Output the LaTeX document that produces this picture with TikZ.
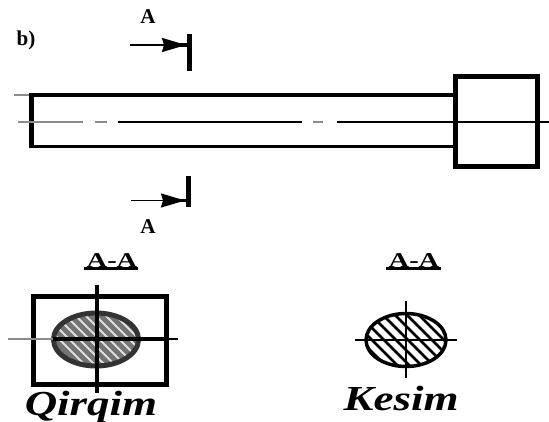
\documentclass[tikz,border=0pt]{standalone}
\usepackage{fontspec}
\setmainfont{Liberation Serif}
\usetikzlibrary{arrows.meta,positioning,calc}

\begin{document}
\begin{tikzpicture} [ % styles
            >={Stealth[length=0.24cm,width=0.14cm,inset=0.02cm]},
            contour/.style = {line width=0.033cm, black},
            contour-bold/.style = {line width=0.05cm, black},
            axis/.style = {line width=0.014cm, black},
            axis-faint/.style = {line width=0.018cm, black!45},
            sign/.style = {line width=0.018cm, black, ->},
            plain/.style = {draw=none, inner sep=0pt, text=black},
            letter/.style = {plain, font=\fontsize{6}{6}\selectfont\bfseries},
            title/.style = {plain, font=\fontsize{6}{6}\selectfont\bfseries, xscale=1.35, transform shape},
            caption/.style = {plain, font=\fontsize{10}{10}\selectfont\bfseries\itshape, xscale=1.28, transform shape}
        ]

        \useasboundingbox (0,0) rectangle (5.49,-4.21);

        % macros
        \pgfmathsetmacro{\ex}{0.425}; % ellipse half width
        \pgfmathsetmacro{\ey}{0.265}; % ellipse half height

        % shaft and head
        \draw [axis-faint] (0.14,-0.95) -- (0.31,-0.95);
        \draw [contour] (0.31,-0.95) -- (4.55,-0.95);
        \draw [contour] (0.31,-1.465) -- (4.55,-1.465);
        \draw [contour-bold] (0.31,-0.93) -- (0.31,-1.48);
        \draw [contour-bold] (4.55,-0.76) rectangle (5.37,-1.66);

        % centre line
        \draw [axis-faint] (0.18,-1.22) -- (0.83,-1.22);
        \draw [axis-faint] (0.95,-1.22) -- (1.07,-1.22);
        \draw [axis] (1.18,-1.22) -- (3.02,-1.22);
        \draw [axis-faint] (3.13,-1.22) -- (3.23,-1.22);
        \draw [axis] (3.37,-1.22) -- (5.49,-1.22);

        % cutting plane marks
        \draw [contour-bold] (1.89,-0.34) -- (1.89,-0.71);
        \draw [sign] (1.30,-0.45) -- (1.86,-0.45);
        \draw [contour] (1.70,-0.45) -- (1.88,-0.45);
        \draw [contour-bold] (1.88,-1.76) -- (1.88,-2.07);
        \draw [sign] (1.31,-2.005) -- (1.85,-2.005);
        \draw [contour] (1.70,-2.005) -- (1.87,-2.005);

        \node [letter] (a1) at (1.48,-0.17) {A};
        \node [letter] (a2) at (1.48,-2.27) {A};
        \node [letter] (b1) at (0.26,-0.40) {b)};

        % left section
        \node [title] (t1) at (1.12,-2.61) {A-A};
        \draw [line width=0.025cm] (0.84,-2.685) -- (1.38,-2.685);
        \begin{scope}
            \clip (0.96,-3.395) ellipse (\ex*1 and \ey);
            \fill [black!55] (0.4,-3.0) rectangle (1.5,-3.8);
            \foreach \i in {0,...,13} {
                \draw [black!12, line width=0.02cm] ({0.2+\i*0.1},-3.0) -- ++(0.65,-0.65);
            }
        \end{scope}
        \draw [line width=0.05cm, black!80] (0.96,-3.395) ellipse (\ex*1 and \ey);
        \draw [contour-bold] (0.33,-2.96) rectangle (1.66,-3.84);
        \draw [contour] (0.97,-2.85) -- (0.97,-3.93);
        \draw [contour] (0.53,-3.39) -- (1.66,-3.39);
        \draw [axis] (1.66,-3.39) -- (1.78,-3.39);
        \draw [axis-faint] (0.08,-3.39) -- (0.53,-3.39);
        \node [caption] (c1) at (0.91,-4.07) {Qirqim};

        % right section
        \node [title] (t2) at (4.14,-2.61) {A-A};
        \draw [line width=0.025cm] (3.86,-2.685) -- (4.41,-2.685);
        \begin{scope}
            \clip (4.06,-3.40) ellipse (0.40 and \ey);
            \foreach \i in {0,...,9} {
                \draw [line width=0.028cm] ({3.2+\i*0.12},-3.0) -- ++(0.7,-0.7);
            }
        \end{scope}
        \draw [line width=0.035cm] (4.06,-3.40) ellipse (0.40 and \ey);
        \draw [line width=0.025cm] (4.06,-3.01) -- (4.06,-3.78);
        \draw [line width=0.025cm] (3.55,-3.40) -- (4.57,-3.40);
        \node [caption] (c2) at (4.01,-3.98) {Kesim};

    \end{tikzpicture}
\end{document}
